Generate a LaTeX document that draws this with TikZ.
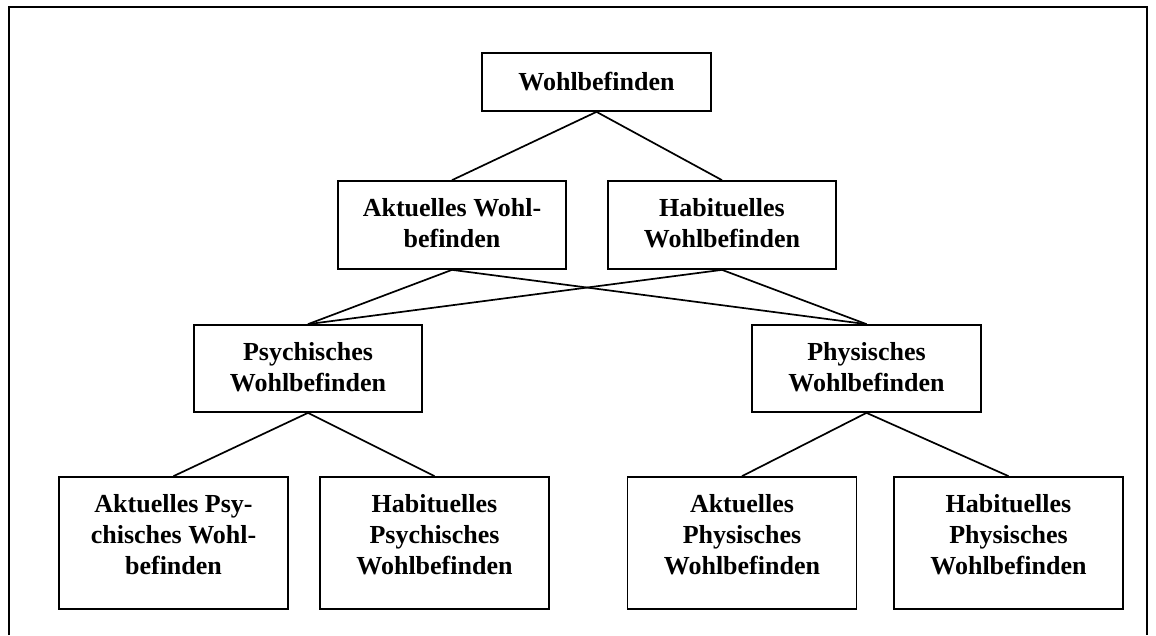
\documentclass[tikz,border=0pt]{standalone}
\usepackage{fontspec}
\setmainfont{Liberation Serif}
\begin{document}
\begin{tikzpicture}[x=1pt,y=-1pt,
  line width=1.7pt,
  box/.style={draw=black, line width=1.7pt, rectangle, inner sep=0pt,
    minimum width=229pt, minimum height=87pt},
  txt/.style={align=center, inner sep=0pt,
    font=\fontsize{26}{31}\selectfont\bfseries},
  link/.style={draw=black, line width=1.7pt}]
  \useasboundingbox (0,0) rectangle (1156,635);

  % outer frame, open at the bottom
  \draw[line width=2pt] (9,635) -- (9,7) -- (1147,7) -- (1147,635);

  % level 0
  \node[box, minimum width=229pt, minimum height=58pt] (wb) at (596.5,82) {};
  \node[txt] (wbt) at (596.5,82) {Wohlbefinden};

  % level 1
  \node[box, minimum width=228pt, minimum height=88pt] (aw) at (452,225) {};
  \node[txt] (awt) at (452,223) {Aktuelles Wohl-\\befinden};
  \node[box, minimum width=228pt, minimum height=88pt] (hw) at (722,225) {};
  \node[txt] (hwt) at (722,223) {Habituelles\\Wohlbefinden};

  % level 2
  \node[box, minimum width=228pt] (psw) at (308,368.5) {};
  \node[txt] (pswt) at (308,367.5) {Psychisches\\Wohlbefinden};
  \node[box, minimum width=229pt] (phw) at (866.5,368.5) {};
  \node[txt] (phwt) at (866.5,367.5) {Physisches\\Wohlbefinden};

  % level 3
  \node[box, minimum height=132pt] (aps) at (173.5,543) {};
  \node[txt] (apst) at (173.5,535) {Aktuelles Psy-\\chisches Wohl-\\befinden};
  \node[box, minimum height=132pt] (hps) at (434.5,543) {};
  \node[txt] (hpst) at (434.5,535) {Habituelles\\Psychisches\\Wohlbefinden};
  \node[box, minimum height=132pt] (aph) at (742,543) {};
  \node[txt] (apht) at (742,535) {Aktuelles\\Physisches\\Wohlbefinden};
  \node[box, minimum height=132pt] (hph) at (1008.5,543) {};
  \node[txt] (hpht) at (1008.5,535) {Habituelles\\Physisches\\Wohlbefinden};

  % connectors
  \draw[link] (wb.south) -- (aw.north);
  \draw[link] (wb.south) -- (hw.north);
  \draw[link] (aw.south) -- (psw.north);
  \draw[link] (aw.south) -- (phw.north);
  \draw[link] (hw.south) -- (psw.north);
  \draw[link] (hw.south) -- (phw.north);
  \draw[link] (psw.south) -- (aps.north);
  \draw[link] (psw.south) -- (hps.north);
  \draw[link] (phw.south) -- (aph.north);
  \draw[link] (phw.south) -- (hph.north);
\end{tikzpicture}
\end{document}
